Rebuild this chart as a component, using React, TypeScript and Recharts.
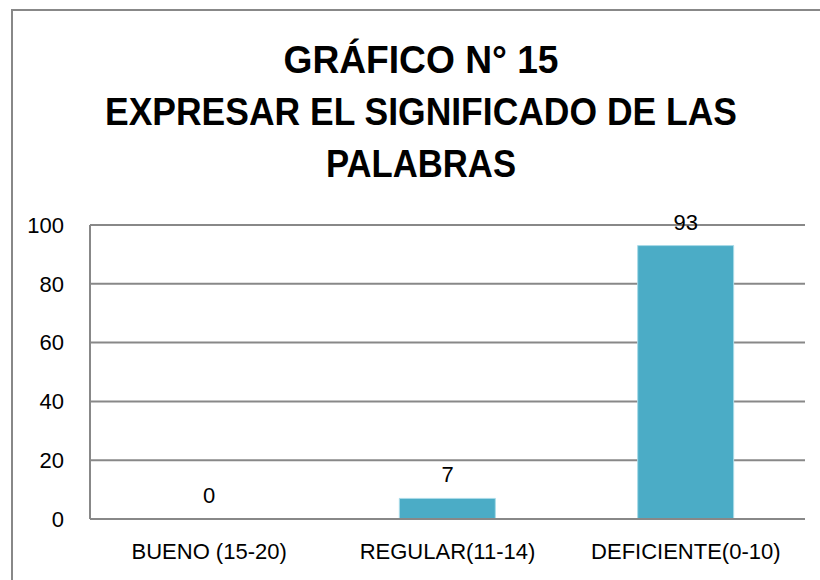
import React from 'react';
import { ComposedChart, Bar, Line, XAxis, YAxis, CartesianGrid, LabelList } from 'recharts';

// categories and values
const categories = ['BUENO (15-20)', 'REGULAR(11-14)', 'DEFICIENTE(0-10)'];
const percent = [0, 7, 93];
const yTicks = [0, 20, 40, 60, 80, 100];
const titleLines = ['GRÁFICO N° 15', 'EXPRESAR EL SIGNIFICADO DE LAS', 'PALABRAS'];

const data = categories.map((name, i) => ({ name, value: percent[i] }));

const font = '"Liberation Sans", Arial, sans-serif';
const gray = '#888888';

// rough widths of each title line in the reference, used to squeeze the fallback font
const titleWidths = [275, 632, 190];

export default function App() {
  return (
    <div style={{ position: 'absolute', left: 0, top: 0, width: 820, height: 580, overflow: 'hidden', background: '#fff' }}>
      <div
        style={{
          position: 'absolute',
          left: 11,
          top: 9,
          width: 840,
          height: 620,
          border: `2px solid ${gray}`,
        }}
      />
      <svg width={820} height={200} style={{ position: 'absolute', left: 0, top: 0 }}>
        {titleLines.map((t, i) => (
          <text
            key={t}
            x={421}
            y={73 + i * 52}
            textAnchor="middle"
            fontFamily={font}
            fontWeight="bold"
            fontSize={39}
            textLength={titleWidths[i]}
            lengthAdjust="spacingAndGlyphs"
            fill="#000"
          >
            {t}
          </text>
        ))}
      </svg>
      <div style={{ position: 'absolute', left: 0, top: 0 }}>
        <ComposedChart width={820} height={580} data={data} margin={{ top: 225, right: 15, left: 0, bottom: 0 }}>
          <CartesianGrid vertical={false} stroke={gray} strokeWidth={2} />
          <XAxis
            dataKey="name"
            height={61}
            tickLine={false}
            tickSize={0}
            tickMargin={24}
            axisLine={{ stroke: gray, strokeWidth: 2 }}
            tick={{ fill: '#000', fontSize: 22, fontFamily: font }}
          />
          <YAxis
            width={90}
            domain={[0, 100]}
            ticks={yTicks}
            tickLine={false}
            tickSize={0}
            tickMargin={26}
            axisLine={{ stroke: gray, strokeWidth: 2 }}
            tick={{ fill: '#000', fontSize: 22, fontFamily: font }}
          />
          <Bar dataKey="value" fill="#4BACC6" stroke="#a9dbe8" strokeWidth={1} barSize={96} isAnimationActive={false} />
          {/* invisible line only to carry the value labels (bar skips the zero one) */}
          <Line dataKey="value" stroke="none" dot={false} activeDot={false} legendType="none" isAnimationActive={false}>
            <LabelList dataKey="value" position="top" offset={16} fill="#000" fontSize={22} fontFamily={font} />
          </Line>
        </ComposedChart>
      </div>
    </div>
  );
}
